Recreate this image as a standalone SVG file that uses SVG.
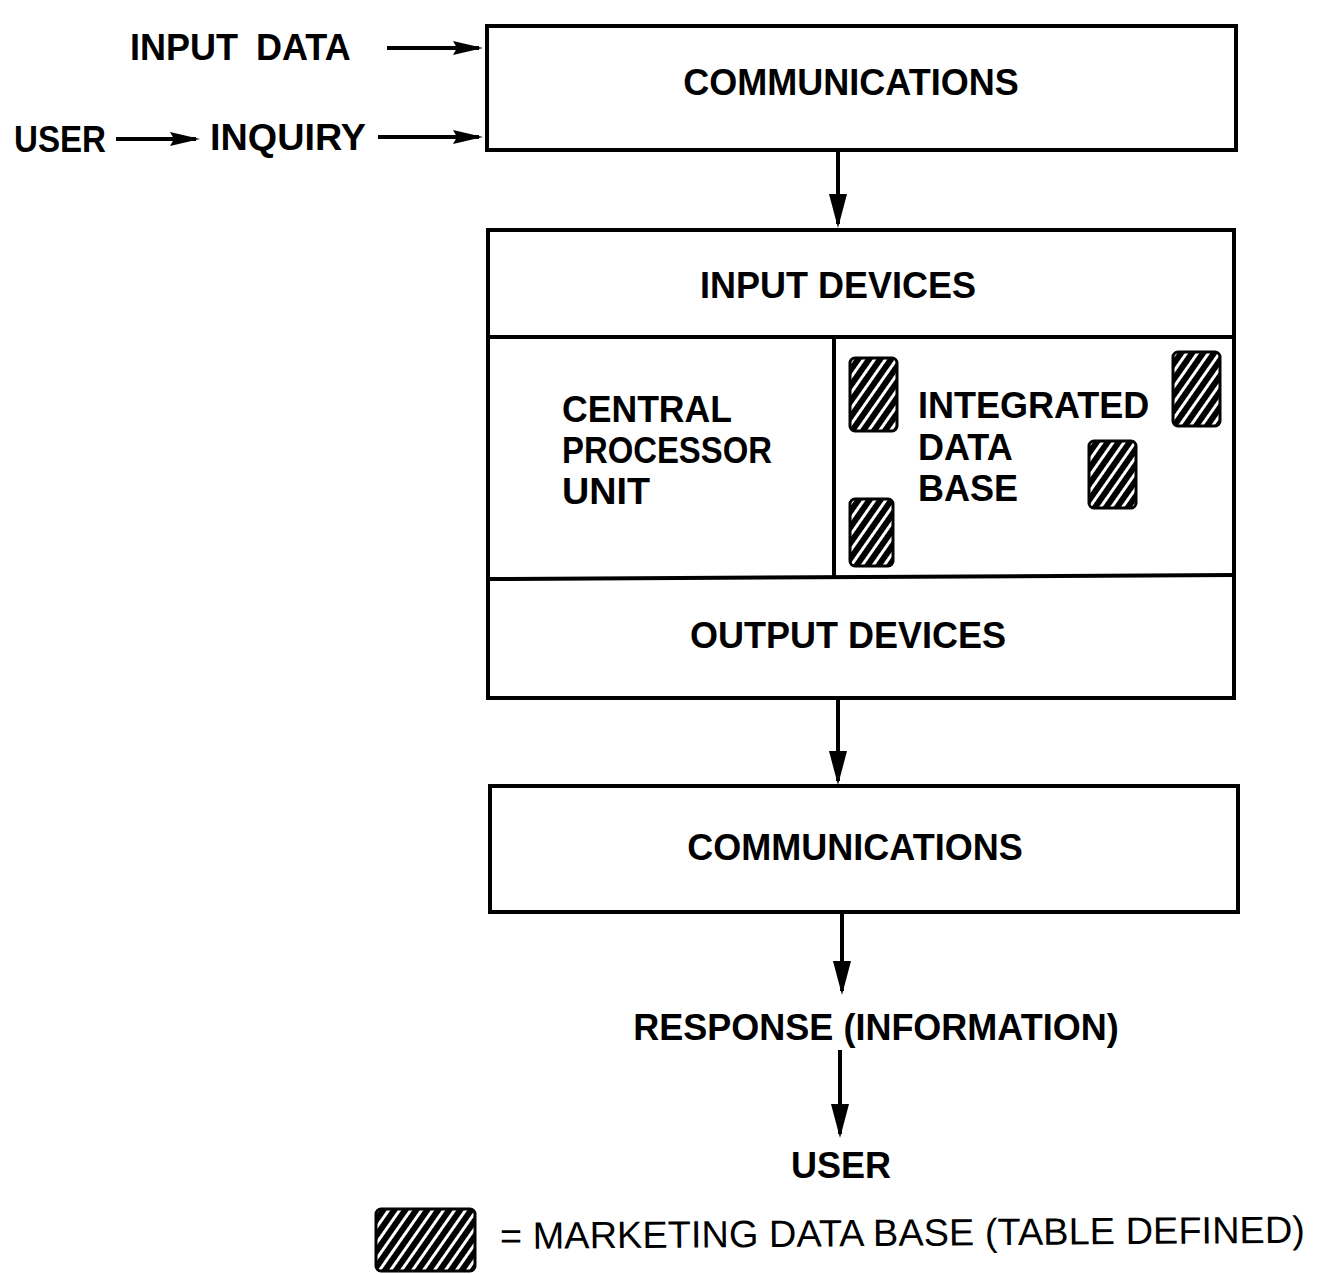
<svg xmlns="http://www.w3.org/2000/svg" width="1321" height="1274" viewBox="0 0 1321 1274">
<style>
.box{fill:#fff;stroke:#000;stroke-width:4}
.ln{fill:none;stroke:#000;stroke-width:4}
.t{font-family:"Liberation Sans",Arial,Helvetica,sans-serif;font-weight:bold;font-size:36px;fill:#000}
.tm{text-anchor:middle}
.leg{font-family:"Liberation Sans",Arial,Helvetica,sans-serif;font-size:38px;fill:#000}
.hatch{fill:url(#hp);stroke:#000;stroke-width:3}
</style>
<defs>
<pattern id="hp" patternUnits="userSpaceOnUse" width="9" height="9" patternTransform="rotate(35)">
<rect width="9" height="9" fill="#000"/>
<rect x="3" y="0" width="3" height="9" fill="#fff"/>
</pattern>
<marker id="ah" markerUnits="userSpaceOnUse" viewBox="0 0 30 16" markerWidth="30" markerHeight="16" refX="26" refY="8" orient="auto">
<path d="M0,1 L30,8 L0,15 L4,8 z" fill="#000"/>
</marker>
<marker id="av" markerUnits="userSpaceOnUse" viewBox="0 0 34 18" markerWidth="34" markerHeight="18" refX="30" refY="9" orient="auto">
<path d="M0,0 L34,9 L0,18 z" fill="#000"/>
</marker>
</defs>
<rect width="1321" height="1274" fill="#fff"/>

<g id="connectors">
<line class="ln" x1="387" y1="48" x2="479" y2="48" marker-end="url(#ah)"/>
<line class="ln" x1="116" y1="139" x2="196" y2="139" marker-end="url(#ah)"/>
<line class="ln" x1="378" y1="137" x2="479" y2="137" marker-end="url(#ah)"/>
<line class="ln" x1="838" y1="152" x2="838" y2="224" marker-end="url(#av)"/>
<line class="ln" x1="838" y1="700" x2="838" y2="781" marker-end="url(#av)"/>
<line class="ln" x1="842" y1="914" x2="842" y2="991" marker-end="url(#av)"/>
<line class="ln" x1="840" y1="1050" x2="840" y2="1134" marker-end="url(#av)"/>
</g>

<g id="label-input-data"><text class="t" x="130" y="60" word-spacing="8">INPUT DATA</text></g>
<g id="label-user-in"><text class="t" x="14" y="152" font-size="35" textLength="92" lengthAdjust="spacingAndGlyphs">USER</text></g>
<g id="label-inquiry"><text class="t" x="210" y="150" textLength="156" lengthAdjust="spacingAndGlyphs">INQUIRY</text></g>

<g id="comm-top">
<rect class="box" x="487" y="26" width="749" height="124"/>
<text class="t tm" x="851" y="95">COMMUNICATIONS</text>
</g>

<g id="computer">
<rect class="box" x="488" y="230" width="746" height="468"/>
<line class="ln" x1="488" y1="337" x2="1234" y2="337"/>
<line class="ln" x1="488" y1="579" x2="1234" y2="575"/>
<line class="ln" x1="834" y1="337" x2="834" y2="578"/>
</g>
<g id="input-devices"><text class="t tm" x="838" y="298">INPUT DEVICES</text></g>
<g id="cpu">
<text class="t" x="562" y="422" font-size="34" textLength="170" lengthAdjust="spacingAndGlyphs">CENTRAL</text>
<text class="t" x="562" y="463" font-size="34" textLength="210" lengthAdjust="spacingAndGlyphs">PROCESSOR</text>
<text class="t" x="562" y="504" font-size="34" textLength="88" lengthAdjust="spacingAndGlyphs">UNIT</text>
</g>
<g id="integrated-db">
<text class="t" x="918" y="418">INTEGRATED</text>
<text class="t" x="918" y="460">DATA</text>
<text class="t" x="918" y="501">BASE</text>
<rect class="hatch" x="850" y="358" width="47" height="73" rx="5"/>
<rect class="hatch" x="1173" y="352" width="47" height="74" rx="5"/>
<rect class="hatch" x="1089" y="441" width="47" height="67" rx="5"/>
<rect class="hatch" x="850" y="499" width="43" height="67" rx="5"/>
</g>
<g id="output-devices"><text class="t tm" x="848" y="648">OUTPUT DEVICES</text></g>

<g id="comm-bottom">
<rect class="box" x="490" y="786" width="748" height="126"/>
<text class="t tm" x="855" y="860">COMMUNICATIONS</text>
</g>

<g id="response"><text class="t tm" x="876" y="1040">RESPONSE (INFORMATION)</text></g>
<g id="user-out"><text class="t tm" x="841" y="1178">USER</text></g>

<g id="legend">
<rect class="hatch" x="376" y="1209" width="99" height="62" rx="5"/>
<text class="leg" x="500" y="1249" textLength="805" lengthAdjust="spacingAndGlyphs" transform="rotate(-0.45 500 1249)">= MARKETING DATA BASE (TABLE DEFINED)</text>
</g>
</svg>
